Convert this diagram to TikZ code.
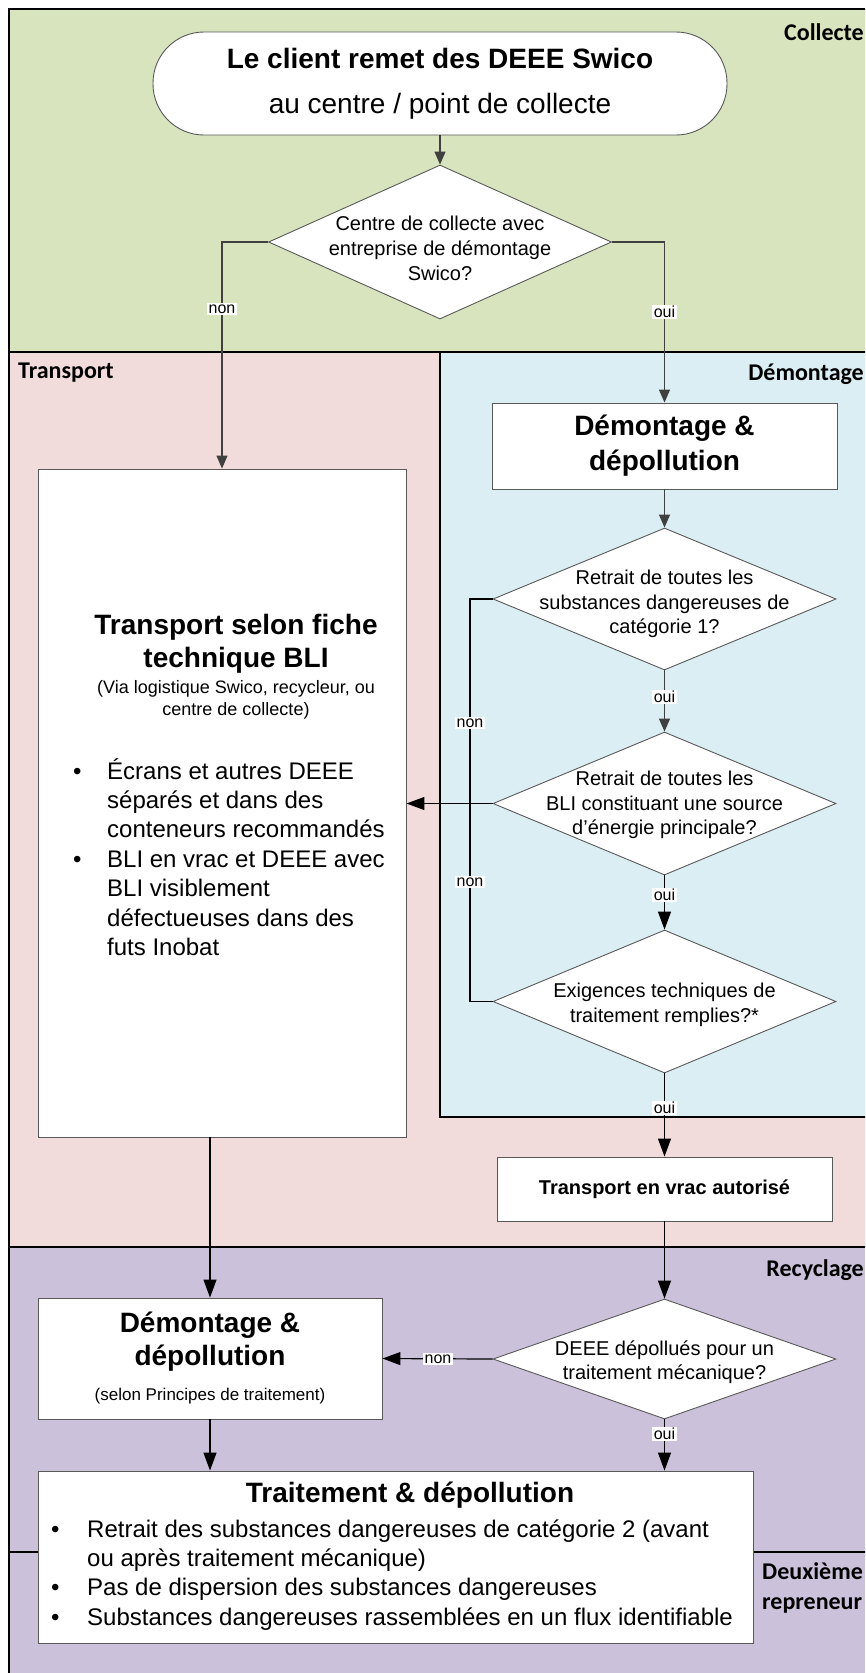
\documentclass[tikz,border=0pt]{standalone}
\usepackage{fontspec}
\setmainfont{Liberation Sans}
\newfontfamily\lanefont{Carlito}
\usetikzlibrary{shapes.geometric,arrows.meta,calc}
\definecolor{colG}{HTML}{D7E4BD}
\definecolor{colP}{HTML}{F2DCDB}
\definecolor{colB}{HTML}{DBEEF4}
\definecolor{colV}{HTML}{CCC1DA}
\definecolor{boxline}{HTML}{595959}
\definecolor{darkline}{HTML}{404040}
\begin{document}
\begin{tikzpicture}[x=1pt,y=-1pt,
  laneline/.style={line width=1.4pt,black},
  lanelabel/.style={font=\fontsize{24}{29}\lanefont\bfseries,inner sep=0pt},
  startbox/.style={draw=boxline,fill=white,line width=0.9pt,rounded corners=51pt,
    minimum width=574pt,minimum height=103pt,inner sep=0pt,align=center,
    font=\fontsize{28}{45}\selectfont},
  decbox/.style={diamond,draw=boxline,fill=white,line width=0.9pt,inner sep=0pt,minimum width=343pt},
  dectext/.style={align=center,inner sep=0pt,font=\fontsize{20}{24.5}\selectfont},
  procbox/.style={draw=boxline,fill=white,line width=0.9pt,inner sep=0pt,align=center},
  titletext/.style={align=center,inner sep=0pt,font=\fontsize{28}{34}\selectfont\bfseries},
  bullettext/.style={anchor=base west,inner sep=0pt,font=\fontsize{24}{29}\selectfont},
  lbl/.style={fill=white,inner sep=1.5pt,font=\fontsize{16}{16}\selectfont},
  cg/.style={darkline,line width=1.3pt,-{Triangle[length=13pt,width=11pt]}},
  ck/.style={black,line width=1.2pt,-{Triangle[length=18pt,width=13pt]}},
  cn/.style={black,line width=1.2pt}
]
\useasboundingbox (0,0) rectangle (865,1673);
\clip (0,0) rectangle (865,1673);
% lanes
\fill[colG] (9,9) rectangle (890,352);
\fill[colP] (9,352) rectangle (890,1247);
\fill[colB] (440,352) rectangle (890,1117);
\fill[colV] (9,1247) rectangle (890,1700);
\draw[laneline] (9,1700) -- (9,9) -- (890,9);
\draw[laneline] (9,352) -- (890,352);
\draw[laneline] (440,352) -- (440,1117) -- (890,1117);
\draw[laneline] (9,1247) -- (890,1247);
\draw[laneline] (9,1552) -- (890,1552);
\node[lanelabel,anchor=east] (lcol) at (864,32) {Collecte};
\node[lanelabel,anchor=west] (ltra) at (18,373) {Transport};
\node[lanelabel,anchor=east] (ldem) at (864,374) {Démontage};
\node[lanelabel,anchor=east] (lrec) at (864,1270) {Recyclage};
\node[lanelabel,anchor=west,align=left,font=\fontsize{24}{30}\lanefont\bfseries] (ldeu) at (762,1588) {Deuxième\\repreneur};

% nodes
\node[startbox] (start) at (440,83.5) {\textbf{Le client remet des DEEE Swico}\\au centre / point de collecte};
\node[decbox,minimum height=154pt] (d1) at (440,242) {};
\node[dectext,font=\fontsize{20}{25}\selectfont] (d1t) at (440,248) {Centre de collecte avec\\entreprise de démontage\\Swico?};

\node[procbox,minimum width=345pt,minimum height=86pt,font=\fontsize{28}{35}\selectfont\bfseries] (b1) at (664.5,446) {Démontage \&\\dépollution};

\node[decbox,minimum height=142pt] (d2) at (664.5,599) {};
\node[dectext] (d2t) at (664.5,604) {Retrait de toutes les\\substances dangereuses de\\catégorie 1?};
\node[decbox,minimum height=143pt] (d3) at (664.5,803.5) {};
\node[dectext] (d3t) at (664.5,805) {Retrait de toutes les\\BLI constituant une source\\d’énergie principale?};
\node[decbox,minimum height=143pt] (d4) at (664.5,1001.5) {};
\node[dectext] (d4t) at (664.5,1005) {Exigences techniques de\\traitement remplies?*};

\node[procbox,minimum width=335pt,minimum height=64pt,font=\fontsize{20}{24}\selectfont\bfseries] (b2) at (664.5,1189) {Transport en vrac autorisé};

\node[decbox,minimum height=120pt] (d5) at (664.5,1359) {};
\node[dectext] (d5t) at (664.5,1362) {DEEE dépollués pour un\\traitement mécanique?};

% transport box
\node[procbox,minimum width=368pt,minimum height=668pt] (tb) at (222,803) {};
\node[titletext,font=\fontsize{28}{33}\selectfont\bfseries] (tbt) at (236,643.5) {Transport selon fiche\\technique BLI};
\node[align=center,inner sep=0pt,font=\fontsize{18}{22}\selectfont] (tbs) at (236,700) {(Via logistique Swico, recycleur, ou\\centre de collecte)};
\foreach \t [count=\i] in {{Écrans et autres DEEE},{séparés et dans des},{conteneurs recommandés},{BLI en vrac et DEEE avec},{BLI visiblement},{défectueuses dans des},{futs Inobat}}
  \node[bullettext] (tbl\i) at (107,{779+29.4*(\i-1)}) {\t};
\node[bullettext] (tbb1) at (73,779) {•};
\node[bullettext] (tbb2) at (73,867.2) {•};

% recycling boxes
\node[procbox,minimum width=344pt,minimum height=121pt] (b3) at (210,1358.5) {};
\node[titletext,font=\fontsize{28}{33}\selectfont\bfseries] (b3t) at (210,1341.5) {Démontage \&\\dépollution};
\node[inner sep=0pt,font=\fontsize{17}{20}\selectfont] (b3s) at (210,1396) {(selon Principes de traitement)};

\node[procbox,minimum width=715pt,minimum height=172pt] (b4) at (395.5,1557) {};
\node[titletext] (b4t) at (410,1495) {Traitement \& dépollution};
\foreach \t [count=\i] in {{Retrait des substances dangereuses de catégorie 2 (avant},{ou après traitement mécanique)},{Pas de dispersion des substances dangereuses},{Substances dangereuses rassemblées en un flux identifiable}}
  \node[bullettext] (b4l\i) at (87,{1537+29.4*(\i-1)}) {\t};
\node[bullettext] (b4b1) at (51,1537) {•};
\node[bullettext] (b4b2) at (51,1595.8) {•};
\node[bullettext] (b4b3) at (51,1625.2) {•};

% connectors
\coordinate (nx) at (470,599);
\draw[cg] (start.south) -- (d1.north);
\draw[cg] (d1.west) -| (tb.north);
\draw[cg] (d1.east) -| (b1.north);
\draw[cg] (b1.south) -- (d2.north);
\draw[cg] (d2.south) -- (d3.north);
\draw[ck] (d3.south) -- (d4.north);
\draw[ck] (d4.south) -- (b2.north);
\draw[ck] (d3.west) -- (d3.west -| tb.east);
\draw[cn] (d2.west) -- (nx) |- (d4.west);
\draw[ck] (b3.north |- tb.south) -- (b3.north);
\draw[ck] (b2.south) -- (d5.north);
\draw[ck] (d5.west) -- (b3.east);
\draw[ck] (b3.south) -- (b3.south |- b4.north);
\draw[ck] (d5.south) -- (d5.south |- b4.north);

% labels
\node[lbl] (l1) at (222,309) {non};
\node[lbl] (l2) at (664.5,312) {oui};
\node[lbl] (l3) at (664.5,697) {oui};
\node[lbl] (l4) at (470,723) {non};
\node[lbl] (l5) at (470,882) {non};
\node[lbl] (l6) at (664.5,895) {oui};
\node[lbl] (l7) at (664.5,1108) {oui};
\node[lbl] (l8) at (438,1359) {non};
\node[lbl] (l9) at (664.5,1434) {oui};
\end{tikzpicture}
\end{document}
